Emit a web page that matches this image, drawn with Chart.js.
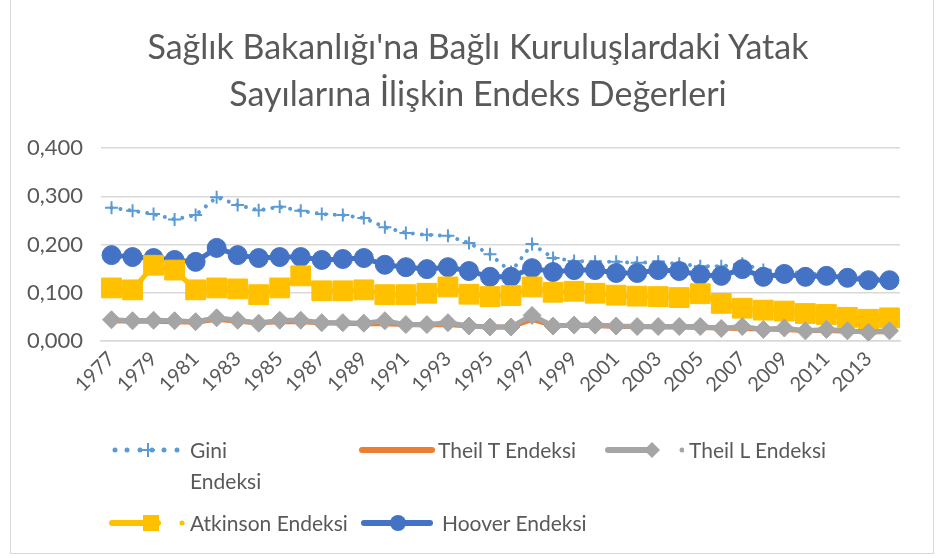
<!DOCTYPE html>
<html>
<head>
<meta charset="utf-8">
<script src="https://cdn.jsdelivr.net/npm/chart.js@4/dist/chart.umd.min.js"></script>
<style>
  html, body { margin:0; padding:0; background:#fff; }
  #wrap { position:relative; width:938px; height:558px; overflow:hidden; font-family: Lato, "Open Sans", sans-serif; color:#595959; }
  #frame { position:absolute; left:10px; top:-2px; width:924px; height:556px; border:1.5px solid #d9d9d9; box-sizing:border-box; }
  #title { position:absolute; left:0; width:956px; top:22px; text-align:center; font-size:34px; line-height:47px; color:#595959; }
  canvas { position:absolute; left:0; top:0; }
  .lg { position:absolute; font-size:21px; color:#595959; line-height:31px; }
  .sw { position:absolute; }
</style>
</head>
<body>
<div id="wrap">
  <div id="frame"></div>
  <canvas id="c" width="938" height="558"></canvas>
  <div id="title">Sağlık Bakanlığı'na Bağlı Kuruluşlardaki Yatak<br>Sayılarına İlişkin Endeks Değerleri</div>

  <svg class="sw" style="left:106px;top:438px" width="80" height="24">
    <g fill="#5B9BD5"><circle cx="9" cy="12" r="2.5"/><circle cx="21" cy="12" r="2.5"/><circle cx="34" cy="12" r="2.5"/><circle cx="46" cy="12" r="2.5"/><circle cx="58" cy="12" r="2.5"/><circle cx="71" cy="12" r="2.5"/></g>
    <path d="M35 12 H49 M42 5 V19" stroke="#5B9BD5" stroke-width="2"/>
  </svg>
  <div class="lg" style="left:190px;top:434px;width:80px">Gini Endeksi</div>

  <svg class="sw" style="left:358px;top:438px" width="80" height="24">
    <path d="M4 12 H74" stroke="#ED7D31" stroke-width="6" stroke-linecap="round"/>
  </svg>
  <div class="lg" style="left:438px;top:434px">Theil T Endeksi</div>

  <svg class="sw" style="left:604px;top:438px" width="80" height="24">
    <path d="M4 12 H50" stroke="#A5A5A5" stroke-width="6" stroke-linecap="round"/>
    <path d="M40 12 L48 4 L56 12 L48 20 Z" fill="#A5A5A5"/>
    <circle cx="78" cy="12" r="2.5" fill="#A5A5A5"/>
  </svg>
  <div class="lg" style="left:689px;top:434px">Theil L Endeksi</div>

  <svg class="sw" style="left:108px;top:511px" width="80" height="24">
    <path d="M4 12 H50" stroke="#FFC000" stroke-width="6" stroke-linecap="round"/>
    <rect x="35" y="4" width="16" height="16" fill="#FFC000"/>
    <circle cx="74" cy="12" r="2.5" fill="#FFC000"/>
  </svg>
  <div class="lg" style="left:190px;top:507px">Atkinson Endeksi</div>

  <svg class="sw" style="left:360px;top:511px" width="80" height="24">
    <path d="M4 12 H70" stroke="#4472C4" stroke-width="6" stroke-linecap="round"/>
    <circle cx="38" cy="12" r="8" fill="#4472C4"/>
  </svg>
  <div class="lg" style="left:442px;top:507px">Hoover Endeksi</div>
</div>
<script>
const years = ['1977','1978','1979','1980','1981','1982','1983','1984','1985','1986','1987','1988','1989','1990','1991','1992','1993','1994','1995','1996','1997','1998','1999','2000','2001','2002','2003','2004','2005','2006','2007','2008','2009','2010','2011','2012','2013','2014'];

const gini = [0.276,0.270,0.263,0.252,0.261,0.298,0.282,0.271,0.278,0.270,0.263,0.261,0.255,0.236,0.224,0.220,0.218,0.203,0.180,0.143,0.201,0.172,0.166,0.164,0.164,0.162,0.164,0.160,0.155,0.155,0.160,0.147,0.145,0.140,0.138,0.135,0.130,0.128];
const theilT = [0.042,0.041,0.041,0.040,0.039,0.045,0.041,0.038,0.040,0.040,0.038,0.037,0.036,0.036,0.034,0.033,0.034,0.031,0.029,0.029,0.045,0.032,0.032,0.032,0.030,0.030,0.029,0.029,0.028,0.027,0.026,0.025,0.024,0.022,0.022,0.020,0.019,0.019];
const theilL = [0.044,0.042,0.043,0.042,0.040,0.048,0.043,0.037,0.043,0.043,0.038,0.038,0.037,0.042,0.034,0.034,0.038,0.031,0.029,0.029,0.053,0.031,0.033,0.033,0.031,0.030,0.030,0.030,0.030,0.026,0.030,0.024,0.027,0.021,0.024,0.021,0.018,0.021];
const atkinson = [0.110,0.106,0.157,0.147,0.106,0.110,0.108,0.096,0.110,0.135,0.104,0.104,0.106,0.096,0.096,0.099,0.112,0.097,0.092,0.094,0.112,0.101,0.103,0.099,0.095,0.093,0.092,0.090,0.098,0.078,0.068,0.064,0.062,0.057,0.055,0.049,0.045,0.048];
const hoover = [0.178,0.174,0.172,0.168,0.164,0.193,0.178,0.172,0.174,0.174,0.168,0.170,0.172,0.158,0.153,0.149,0.153,0.145,0.133,0.133,0.151,0.143,0.147,0.147,0.141,0.141,0.147,0.145,0.137,0.135,0.149,0.133,0.139,0.133,0.135,0.131,0.126,0.126];

const yTicks = [0, 0.1, 0.2, 0.3, 0.4];

const FONT = 'Lato, "Open Sans", sans-serif';
const TXT = '#595959';

new Chart(document.getElementById('c'), {
  type: 'line',
  data: {
    labels: years,
    datasets: [
      { label: 'Gini Endeksi', data: gini, order: 5,
        borderColor: '#5B9BD5', borderWidth: 4, borderDash: [0.01, 9], borderCapStyle: 'round',
        pointStyle: 'cross', pointRadius: 6.5, pointBorderWidth: 2, pointBorderColor: '#5B9BD5', pointBackgroundColor: '#5B9BD5' },
      { label: 'Theil T Endeksi', data: theilT, order: 2,
        borderColor: '#ED7D31', borderWidth: 5, pointRadius: 0 },
      { label: 'Theil L Endeksi', data: theilL, order: 1,
        borderColor: '#A5A5A5', borderWidth: 5, pointStyle: 'rectRot', pointRadius: 9,
        pointBackgroundColor: '#A5A5A5', pointBorderColor: '#A5A5A5', pointBorderWidth: 1 },
      { label: 'Atkinson Endeksi', data: atkinson, order: 3,
        borderColor: '#FFC000', borderWidth: 5, pointStyle: 'rect', pointRadius: 14,
        pointBackgroundColor: '#FFC000', pointBorderColor: '#FFC000', pointBorderWidth: 1 },
      { label: 'Hoover Endeksi', data: hoover, order: 4,
        borderColor: '#4472C4', borderWidth: 5, pointStyle: 'circle', pointRadius: 9.5,
        pointBackgroundColor: '#4472C4', pointBorderColor: '#4472C4', pointBorderWidth: 1 }
    ]
  },
  options: {
    responsive: false,
    animation: false,
    layout: { padding: { top: 148, right: 38, bottom: 0, left: 0 } },
    plugins: { legend: { display: false }, tooltip: { enabled: false }, title: { display: false } },
    elements: { line: { tension: 0 } },
    scales: {
      x: {
        offset: true,
        grid: { display: false, drawTicks: false },
        border: { display: true, color: '#d9d9d9', width: 1.5 },
        ticks: {
          autoSkip: false, minRotation: 45, maxRotation: 45, padding: 6,
          color: TXT, font: { family: FONT, size: 20 },
          callback: function(v, i) { return i % 2 === 0 ? years[i] : ''; }
        },
        afterFit: function(s) { s.height = 558 - 341; }
      },
      y: {
        min: 0, max: 0.4,
        afterBuildTicks: function(s) { s.ticks = yTicks.map(v => ({ value: v })); },
        grid: { color: '#d9d9d9', lineWidth: 1.5, drawTicks: false },
        border: { display: false },
        ticks: {
          padding: 18, color: TXT, font: { family: FONT, size: 22 },
          callback: function(v) { return v.toFixed(3).replace('.', ','); }
        },
        afterFit: function(s) { s.width = 101; }
      }
    }
  }
});
</script>
</body>
</html>
